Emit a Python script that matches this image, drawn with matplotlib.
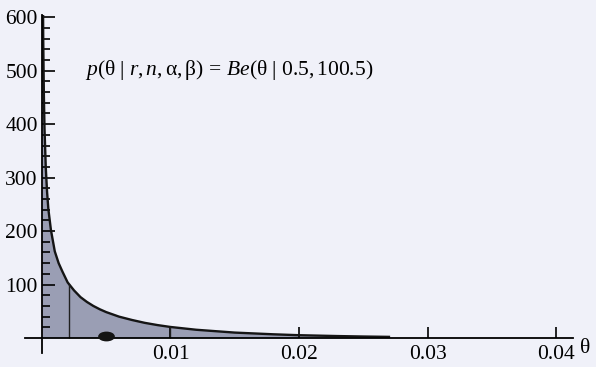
import matplotlib
matplotlib.use("Agg")
import matplotlib.pyplot as plt
import matplotlib.path as mpath
from matplotlib.transforms import Affine2D
import numpy as np

# density of Be(theta | 0.5, 100.5)
theta = [0.00004, 0.00006, 0.0001, 0.00015, 0.0002, 0.0003, 0.0004, 0.0005, 0.0007,
         0.001, 0.0013, 0.0016, 0.002, 0.0025, 0.003, 0.0035, 0.004, 0.0045, 0.005,
         0.006, 0.007, 0.008, 0.009, 0.010, 0.012, 0.015, 0.018, 0.020, 0.023,
         0.025, 0.027]
dens = [890, 725, 560, 455, 392, 318, 273, 241, 202, 162, 140, 124, 104, 89, 76.5,
        67.5, 60, 53.8, 48.5, 40, 33.8, 28.4, 24.2, 20.7, 15.5, 10.2, 7, 5.3, 3.7,
        2.85, 2.2]

mean_theta = 0.00495
interval = [0.0021, 0.01]   # vertical lines inside the shaded area

yticks = [100, 200, 300, 400, 500, 600]
xticks = [0.01, 0.02, 0.03, 0.04]
xlabels = ["0.01", "0.02", "0.03", "0.04"]

plt.rcParams["font.family"] = ["Liberation Serif", "DejaVu Serif"]
plt.rcParams["mathtext.fontset"] = "custom"
plt.rcParams["mathtext.rm"] = "Liberation Serif"
plt.rcParams["mathtext.it"] = "Liberation Serif:italic"

bg = "#f0f1f9"
fig = plt.figure(figsize=(5.96, 3.67), dpi=100, facecolor=bg)
ax = fig.add_axes([0.0419, 0.0381, 0.9195, 0.921])
ax.set_facecolor(bg)

ax.fill_between(theta, dens, 0, color="#9a9eb4", lw=0)
ax.plot(theta, dens, color="#151515", lw=1.7)
# interval lines drawn up to the curve
for t in interval:
    h = np.interp(t, theta, dens)
    ax.vlines(t, 0, h, color="#202020", lw=1.0)

ell = mpath.Path.unit_circle().transformed(Affine2D().scale(1, 0.55))
ax.plot([mean_theta], [3.5], marker=ell, ms=11, color="#141414", ls="none", zorder=5)

ax.set_xlim(-0.00132, 0.04132)
ax.set_ylim(-28, 604)
for s in ["top", "right"]:
    ax.spines[s].set_visible(False)
ax.spines["left"].set_position(("data", 0))
ax.spines["bottom"].set_position(("data", 0))
ax.spines["left"].set_linewidth(1.3)
ax.spines["bottom"].set_linewidth(1.3)

ax.set_yticks(yticks)
ax.set_yticks([v for v in range(20, 600, 20) if v % 100], minor=True)
ax.set_xticks(xticks)
ax.set_xticklabels(xlabels)
ax.tick_params(axis="y", which="major", direction="in", length=9, width=1.2,
               labelsize=15.5, pad=3)
ax.tick_params(axis="y", which="minor", direction="in", length=6, width=1.2)
ax.tick_params(axis="x", which="major", direction="in", length=8, width=1.2,
               labelsize=15.5, pad=5)

fig.text(0.973, 0.05, "θ", fontsize=15.5, ha="left", va="center")
fig.text(0.143, 0.808, r"$p(\mathrm{θ\ |\ }r,n,\mathrm{α,β)\,=\,}Be\mathrm{(θ\ |\ 0.5,100.5)}$",
         fontsize=15.5, ha="left", va="center")

fig.savefig("out.png", dpi=100, facecolor=bg)
